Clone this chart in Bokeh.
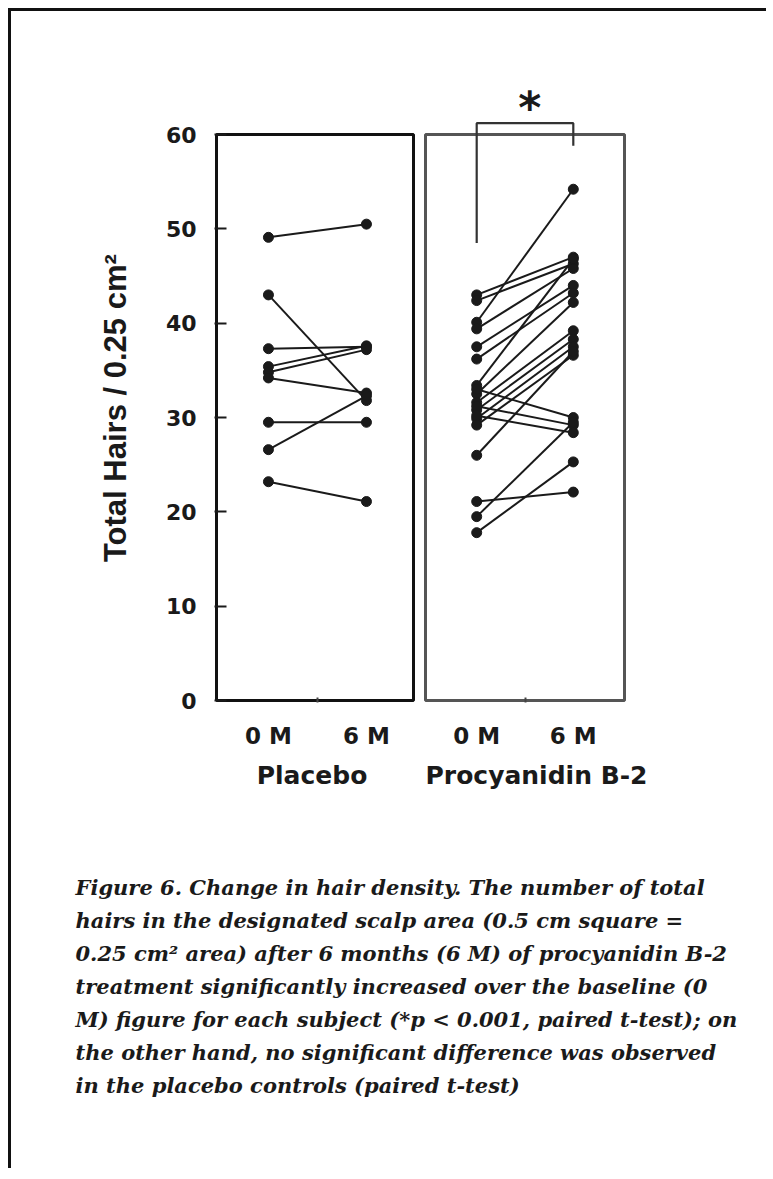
import math
from bokeh.plotting import figure
from bokeh.models import ColumnDataSource, Range1d, FixedTicker
from bokeh.layouts import column, row
from bokeh.embed import file_html
from bokeh.resources import INLINE
from bokeh.core.properties import value

# ---------------- data ----------------
months = ["0 M", "6 M"]
groups = ["Placebo", "Procyanidin B-2"]
y_ticks = [0, 10, 20, 30, 40, 50, 60]

placebo_0m = [49.1, 43.0, 37.3, 35.4, 34.8, 34.2, 29.5, 26.6, 23.2]
placebo_6m = [50.5, 31.8, 37.5, 37.6, 37.2, 32.6, 29.5, 32.3, 21.1]

procy_0m = [43.0, 42.4, 40.1, 39.4, 37.5, 36.2, 33.4, 32.5, 31.6, 30.8,
            29.9, 29.2, 33.0, 31.2, 30.2, 26.0, 21.1, 19.5, 17.8]
procy_6m = [47.0, 46.3, 54.2, 45.8, 44.0, 43.2, 46.8, 42.2, 39.2, 38.3,
            37.5, 36.6, 30.0, 29.2, 28.4, 37.0, 22.1, 29.5, 25.3]

# significance bracket (0 M -> 6 M of procyanidin B-2), in data units
bracket_x = [0, 0, 1, 1]
bracket_y = [48.5, 61.2, 61.2, 58.8]
star_x = [0.55]
star_y = [62.9]
sig_mark = ["*"]

caption_lines = [
    "Figure 6. Change in hair density. The number of total",
    "hairs in the designated scalp area (0.5 cm square =",
    "0.25 cm\u00b2 area) after 6 months (6 M) of procyanidin B-2",
    "treatment significantly increased over the baseline (0",
    "M) figure for each subject (*p < 0.001, paired t-test); on",
    "the other hand, no significant difference was observed",
    "in the placebo controls (paired t-test)",
]
y_label = "Total Hairs / 0.25 cm\u00b2"

# panel extents in data units
Y_LO, Y_HI = 0, 60
P1_X = (-0.53, 1.48)
P2_X = (-0.53, 1.53)

# ---------------- styling / layout constants ----------------
SANS = "DejaVu Sans"
INK = "#1a1a1a"
BORDER = 3
TOP = 123          # canvas px above the 60 line
FRAME_H = 566      # px for 0..60
BOTTOM = 55        # canvas px below the 0 line (tick labels)
H = TOP + FRAME_H + BOTTOM
PXU = FRAME_H / (Y_HI - Y_LO)

# frames extended (identical for all panels: row layouts align frames)
Y_TOP = 65.3
Y_BOT = -0.2
FTOP = int(round(TOP - (Y_TOP - Y_HI) * PXU))
FBOT = int(round(BOTTOM + Y_BOT * PXU))

YLAB_W = 130       # width of the strip holding the y axis title
P1_LEFT = 73
P1_W_FRAME = 197
P2_W_FRAME = 199


def style_x(p):
    xa = p.xaxis[0]
    xa.ticker = FixedTicker(ticks=[0, 1], minor_ticks=[0.5])
    xa.major_label_overrides = {0: months[0], 1: months[1]}
    xa.major_tick_line_color = None
    xa.minor_tick_in = 5
    xa.minor_tick_out = 0
    xa.minor_tick_line_width = 2
    xa.minor_tick_line_color = "#444444"
    xa.axis_line_color = None
    xa.major_label_standoff = 14
    xa.major_label_text_font = SANS
    xa.major_label_text_font_style = "bold"
    xa.major_label_text_font_size = "23px"
    xa.major_label_text_color = INK


def make_panel(xr, frame_w, left, right, m0, m6, box_color):
    pad = 2 / (frame_w / (xr[1] - xr[0]))
    p = figure(width=left + frame_w + 4 + right, height=H,
               x_range=Range1d(xr[0] - pad, xr[1] + pad), y_range=Range1d(Y_BOT, Y_TOP),
               output_backend="svg", toolbar_location=None,
               min_border_left=left, min_border_right=right,
               min_border_top=FTOP, min_border_bottom=FBOT)
    p.grid.visible = False
    p.outline_line_color = None
    p.background_fill_color = "white"
    p.border_fill_color = "white"
    p.quad(left=[xr[0]], right=[xr[1]], bottom=[Y_LO], top=[Y_HI],
           fill_color=None, line_color=box_color, line_width=3)
    src = ColumnDataSource(dict(x0=[0] * len(m0), y0=m0, x1=[1] * len(m6), y1=m6))
    p.segment(x0="x0", y0="y0", x1="x1", y1="y1", source=src,
              line_color=INK, line_width=2)
    p.scatter(x="x0", y="y0", source=src, size=10, color=INK)
    p.scatter(x="x1", y="y1", source=src, size=10, color=INK)
    style_x(p)
    return p


# ---- y-axis title strip ----
py = figure(width=YLAB_W, height=H, x_range=Range1d(0, YLAB_W), y_range=Range1d(Y_BOT, Y_TOP),
            output_backend="svg", toolbar_location=None,
            min_border_left=0, min_border_right=0,
            min_border_top=FTOP, min_border_bottom=FBOT)
py.axis.visible = False
py.grid.visible = False
py.outline_line_color = None
py.text(x=[104], y=[31.0], text=[y_label], angle=math.pi / 2,
        text_align="center", text_baseline="middle",
        text_font=value("Liberation Sans"), text_font_style="bold",
        text_font_size="31px", text_color=INK)

# ---- placebo panel (with y axis) ----
p1 = make_panel(P1_X, P1_W_FRAME, P1_LEFT, 4, placebo_0m, placebo_6m, "#111111")
ya = p1.yaxis[0]
ya.ticker = FixedTicker(ticks=y_ticks)
ya.axis_line_color = None
ya.major_tick_in = 12
ya.major_tick_out = 0
ya.major_tick_line_width = 2
ya.major_tick_line_color = INK
ya.minor_tick_line_color = None
ya.major_label_standoff = 18
ya.major_label_text_font = SANS
ya.major_label_text_font_style = "bold"
ya.major_label_text_font_size = "22px"
ya.major_label_text_color = INK

# ---- procyanidin panel ----
p2 = make_panel(P2_X, P2_W_FRAME, 4, 36, procy_0m, procy_6m, "#555555")
p2.yaxis.visible = False
p2.line(x=bracket_x, y=bracket_y, line_color="#333333", line_width=2.2)
p2.text(x=star_x, y=star_y, text=sig_mark, text_align="center", text_baseline="middle",
        text_font=value(SANS), text_font_style="bold", text_font_size="44px",
        text_color=INK)

# ---- group names + caption ----
CAP_W, CAP_H = 755, 413
p3 = figure(width=CAP_W, height=CAP_H, x_range=Range1d(0, CAP_W), y_range=Range1d(CAP_H, 0),
            output_backend="svg", toolbar_location=None, min_border=0)
p3.axis.visible = False
p3.grid.visible = False
p3.outline_line_color = None

box1_left = YLAB_W + P1_LEFT + 2
box2_left = YLAB_W + P1_LEFT + 2 + P1_W_FRAME + 2 + 4 + 4 + 2
p3.text(x=[box1_left + P1_W_FRAME / 2 - 3], y=[20], text=[groups[0]],
        text_align="center", text_baseline="middle",
        text_font=value(SANS), text_font_style="bold", text_font_size="25px",
        text_color=INK)
p3.text(x=[box2_left], y=[20], text=[groups[1]],
        text_align="left", text_baseline="middle",
        text_font=value(SANS), text_font_style="bold", text_font_size="25px",
        text_color=INK)

cap_src = ColumnDataSource(dict(x=[64] * len(caption_lines),
                                y=[132 + 33 * i for i in range(len(caption_lines))],
                                t=caption_lines))
p3.text(x="x", y="y", text="t", source=cap_src, text_baseline="middle",
        text_font=value("DejaVu Serif"), text_font_style="bold italic",
        text_font_size="21px", text_color=INK)

layout = column(row(py, p1, p2), p3,
                styles={"border-left": f"{BORDER}px solid #111",
                        "border-top": f"{BORDER}px solid #111",
                        "margin-left": "8px", "margin-top": "8px"})

open("out.html", "w").write(file_html(layout, INLINE))
